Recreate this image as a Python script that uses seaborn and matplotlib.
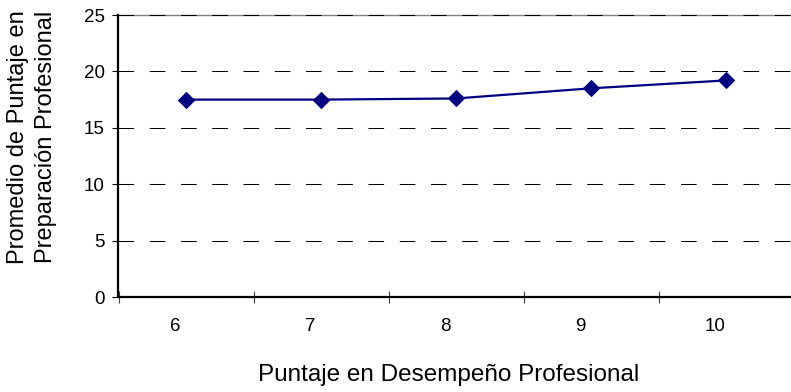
import matplotlib
matplotlib.use("Agg")
import matplotlib.pyplot as plt
import matplotlib.transforms as mtransforms
import seaborn as sns
import pandas as pd

categories = ["6", "7", "8", "9", "10"]
values = [17.5, 17.5, 17.6, 18.5, 19.2]
y_ticks = [0, 5, 10, 15, 20, 25]
x_label = "Puntaje en Desempeño Profesional"
y_label = "Promedio de Puntaje en\nPreparación Profesional"

sns.set_theme(style="white")
plt.rcParams["font.family"] = ["Liberation Sans", "DejaVu Sans"]

W, H = 791, 392
fig = plt.figure(figsize=(W / 100, H / 100), dpi=100)
left, right, top, bottom = 118.5, 791, 15, 297
ax = fig.add_axes([left / W, (H - bottom) / H, (right - left) / W, (bottom - top) / H])

df = pd.DataFrame({"cat": categories, "val": values})
sns.lineplot(data=df, x="cat", y="val", ax=ax, color="#000080", linewidth=1.6,
             marker="D", markersize=8, markeredgecolor="#000080", sort=False, zorder=5)

cat_w = 135.0
ax.set_xlim(-0.5, -0.5 + (right - left) / cat_w)
ax.set_ylim(0, 25)

# y axis
ax.set_yticks(y_ticks)
ax.set_yticklabels([str(v) for v in y_ticks])
ax.tick_params(axis="y", which="major", direction="out", length=4, width=0.8,
               color="black", pad=6, labelsize=13.5, left=True, labelcolor="black")
ax.yaxis.grid(True, color="black", linestyle=(0, (15, 15)), linewidth=0.75)
ax.xaxis.grid(False)
for gl in ax.yaxis.get_gridlines():
    gl.set_clip_on(False)

# x axis: labels at category centres, ticks at boundaries
ax.set_xticks(range(len(categories)))
ax.set_xticklabels(categories)
ax.set_xticks([i - 0.5 for i in range(len(categories))], minor=True)
ax.tick_params(axis="x", which="major", length=0, pad=15, labelsize=13.5, labelcolor="black")
ax.tick_params(axis="x", which="minor", direction="inout", length=8, width=0.8,
               color="#404040", bottom=True)
offset = mtransforms.ScaledTranslation(-11 / 100, 0, fig.dpi_scale_trans)
for lab in ax.get_xticklabels():
    lab.set_transform(lab.get_transform() + offset)

for side in ["left", "bottom"]:
    ax.spines[side].set_color("black")
    ax.spines[side].set_linewidth(1.6)
ax.spines["top"].set_color("#808080")
ax.spines["top"].set_linewidth(1.0)
ax.spines["top"].set_zorder(0.5)
ax.spines["right"].set_visible(False)

ax.set_xlabel(x_label, fontsize=17.5, color="black")
ax.set_ylabel(y_label, fontsize=17, color="black", linespacing=1.3)
ax.xaxis.label.set_va("center")
ax.xaxis.set_label_coords((449 - left) / (right - left), (bottom - 375) / (bottom - top))
ax.yaxis.label.set_va("center")
ax.yaxis.set_label_coords((32 - left) / (right - left), (bottom - 137) / (bottom - top))

fig.savefig("out.png", dpi=100, facecolor="white")
